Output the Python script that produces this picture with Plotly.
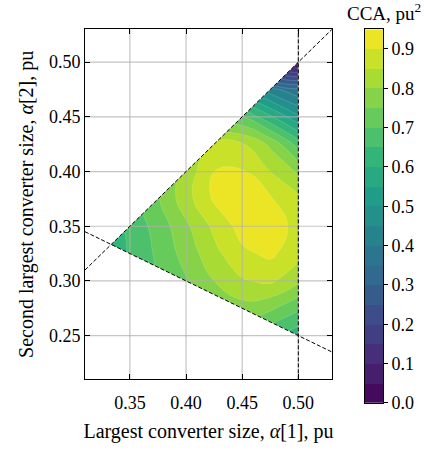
import plotly.graph_objects as go
from plotly.colors import sample_colorscale

# ---- data (CCA in pu^2); points just outside the
# triangle are estimates that only serve the edge cells (they are masked) ----
alpha1 = [0.325, 0.35, 0.375, 0.40, 0.425, 0.45, 0.475, 0.50]
alpha2 = [0.25, 0.275, 0.30, 0.325, 0.35, 0.375, 0.40, 0.425, 0.45, 0.475, 0.50]
N = None
cca = [
    [N,    N,     N,     N,     N,     0.715, 0.66,  0.62],   # a2 = 0.25
    [N,    N,     N,     0.72,  0.765, 0.78,  0.76,  0.71],   # 0.275
    [N,    0.645, 0.70,  0.745, 0.80,  0.845, 0.86,  0.81],   # 0.30
    [0.60, 0.655, 0.71,  0.77,  0.835, 0.89,  0.91,  0.87],   # 0.325
    [0.61, 0.665, 0.72,  0.79,  0.862, 0.92,  0.925, 0.885],  # 0.35
    [N,    0.69,  0.745, 0.83,  0.908, 0.93,  0.905, 0.865],  # 0.375
    [N,    N,     0.735, 0.82,  0.90,  0.905, 0.85,  0.79],   # 0.40
    [N,    N,     N,     0.78,  0.86,  0.855, 0.79,  0.68],   # 0.425
    [N,    N,     N,     N,     0.705, 0.70,  0.61,  0.51],   # 0.45
    [N,    N,     N,     N,     N,     0.51,  0.42,  0.36],   # 0.475
    [N,    N,     N,     N,     N,     N,     0.08,  0.02],   # 0.50
]
levels = [round(0.05 * k, 2) for k in range(20)]          # 0.00 ... 0.95
cbar_ticks = [round(0.1 * k, 1) for k in range(10)]       # 0.0 ... 0.9
x_ticks = [0.35, 0.40, 0.45, 0.50]
y_ticks = [0.25, 0.30, 0.35, 0.40, 0.45, 0.50]
x_range = [0.31, 0.53]
y_range = [0.21, 0.53]

FONT = "Liberation Serif"
W, H = 426, 450

# band colours as matplotlib contourf would give them
lo, hi = levels[0], levels[-1]
mids = [(levels[i] + levels[i + 1]) / 2 for i in range(len(levels) - 1)]
band_cols = sample_colorscale("Viridis", [(m - lo) / (hi - lo) for m in mids])
nb = len(mids)
cscale = [[0.0, band_cols[0]]]
for k, c in enumerate(band_cols):
    cscale.append([(k + 1) / (nb + 1), c])
cscale.append([1.0, band_cols[-1]])

fig = go.Figure()

fig.add_trace(go.Contour(
    x=alpha1, y=alpha2, z=cca, connectgaps=True,
    autocontour=False,
    contours=dict(start=levels[0], end=levels[-1], size=levels[1] - levels[0], coloring="fill", showlines=True),
    line=dict(color="rgba(255,255,255,0.3)", width=0.5, smoothing=1.3),
    colorscale=cscale, showscale=False, hoverinfo="skip",
))

# feasible triangle: a1 >= a2 >= a3 = 1 - a1 - a2, a1 <= 0.5
A = (1 / 3, 1 / 3)
B = (0.5, 0.5)
C = (0.5, 0.25)
x0, x1 = x_range[0] - 0.01, x_range[1] + 0.01
y0, y1 = y_range[0] - 0.01, y_range[1] + 0.01
mx = [A[0], B[0], C[0], A[0], x0, x1, x1, x0, x0, A[0]]
my = [A[1], B[1], C[1], A[1], y0, y0, y1, y1, y0, A[1]]
fig.add_trace(go.Scatter(x=mx, y=my, mode="lines", fill="toself", fillcolor="white",
                         line=dict(width=0, color="white"), hoverinfo="skip", showlegend=False))

# grid lines drawn above the filled contours
grid_col = "rgba(176,176,176,0.75)"
for xv in x_ticks:
    fig.add_trace(go.Scatter(x=[xv, xv], y=y_range, mode="lines", line=dict(color=grid_col, width=1.2),
                             hoverinfo="skip", showlegend=False))
for yv in y_ticks:
    fig.add_trace(go.Scatter(x=x_range, y=[yv, yv], mode="lines", line=dict(color=grid_col, width=1.2),
                             hoverinfo="skip", showlegend=False))

# constraint boundaries (dashed)
dash = dict(color="black", width=1, dash="4px,2px")
fig.add_trace(go.Scatter(x=x_range, y=x_range, mode="lines", line=dash, hoverinfo="skip", showlegend=False))
fig.add_trace(go.Scatter(x=x_range, y=[(1 - v) / 2 for v in x_range], mode="lines", line=dash,
                         hoverinfo="skip", showlegend=False))
fig.add_trace(go.Scatter(x=[0.5, 0.5], y=y_range, mode="lines", line=dash, hoverinfo="skip", showlegend=False))

# colour bar drawn as its own heatmap
fig.add_trace(go.Heatmap(
    x=[0], y=mids, z=[[m] for m in mids], zmin=lo, zmax=hi, colorscale="Viridis",
    showscale=False, xaxis="x2", yaxis="y2", hoverinfo="skip",
))

px_l, px_r, px_t, px_b = 85, 332, 30, 388
cb_l, cb_r, cb_t, cb_b = 365, 383, 30, 412

axis_common = dict(showline=True, linecolor="black", linewidth=1, mirror="ticks", ticks="inside",
                   ticklen=5, tickwidth=1, tickcolor="black", showgrid=False, zeroline=False,
                   tickfont=dict(family=FONT, size=18, color="black"))

fig.update_layout(
    width=W, height=H, margin=dict(l=0, r=0, t=0, b=0),
    paper_bgcolor="white", plot_bgcolor="white", showlegend=False,
    font=dict(family=FONT, size=18, color="black"),
    xaxis=dict(domain=[px_l / W, px_r / W], range=x_range, tickvals=x_ticks,
               ticktext=[f"{v:.2f}" for v in x_ticks], ticklabelstandoff=7,
               title=dict(text="Largest converter size, <i>α</i>[1], pu", standoff=12,
                          font=dict(family=FONT, size=20)), **axis_common),
    yaxis=dict(domain=[1 - px_b / H, 1 - px_t / H], range=y_range, tickvals=y_ticks,
               ticktext=[f"{v:.2f}" for v in y_ticks],
               title=dict(text="Second largest converter size, <i>α</i>[2], pu", standoff=9,
                          font=dict(family=FONT, size=20)), **axis_common),
    xaxis2=dict(domain=[cb_l / W, cb_r / W], range=[-0.5, 0.5], anchor="y2", showticklabels=False,
                ticks="", showgrid=False, zeroline=False, showline=True, mirror=True,
                linecolor="black", linewidth=1),
    yaxis2=dict(domain=[1 - cb_b / H, 1 - cb_t / H], range=[lo, hi], anchor="x2", side="right",
                tickvals=cbar_ticks, ticktext=[f"{v:.1f}" for v in cbar_ticks], ticks="outside",
                ticklen=4, tickcolor="black", showgrid=False, zeroline=False, showline=True,
                mirror=True, linecolor="black", linewidth=1,
                tickfont=dict(family=FONT, size=18, color="black")),
    annotations=[dict(text="CCA, pu<sup>2</sup>", x=384 / W, y=1 - 12 / H, xref="paper", yref="paper",
                      xanchor="center", yanchor="middle", showarrow=False,
                      font=dict(family=FONT, size=19, color="black"))],
)

fig.write_html("out.html", config={"displayModeBar": False},
               post_script="document.body.style.margin='0';document.body.style.padding='0';")
